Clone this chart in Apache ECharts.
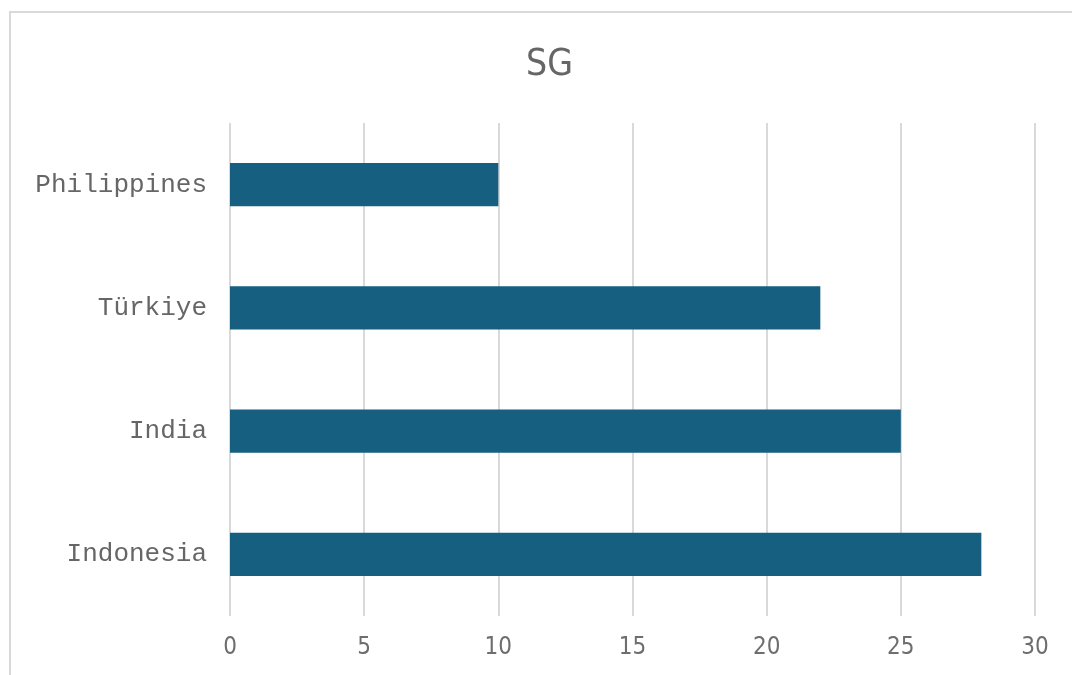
<!DOCTYPE html>
<html>
<head>
<meta charset="utf-8">
<style>
  html, body { margin: 0; padding: 0; background: #ffffff; overflow: hidden; }
  #frame {
    position: absolute; left: 9px; top: 11px; width: 1100px; height: 700px;
    border-left: 2px solid #d9d9d9; border-top: 2px solid #d9d9d9;
  }
  #chart { position: absolute; left: 0; top: 0; width: 1072px; height: 675px; }
</style>
<script src="https://cdn.jsdelivr.net/npm/echarts@6/dist/echarts.min.js"></script>
</head>
<body>
<div id="frame"></div>
<div id="chart"></div>
<script>
// Categories listed bottom to top
const countries = ['Indonesia', 'India', 'Türkiye', 'Philippines'];
const values = [28, 25, 22, 10];
const xTicks = { min: 0, max: 30, interval: 5 };

const chart = echarts.init(document.getElementById('chart'), null, { renderer: 'canvas' });
chart.setOption({
  backgroundColor: 'transparent',
  animation: false,
  title: {
    text: 'SG',
    left: 521,
    top: 42,
    textStyle: {
      fontFamily: 'DejaVu Sans Condensed, DejaVu Sans, sans-serif',
      fontWeight: 'normal',
      fontSize: 37,
      color: '#666666'
    }
  },
  grid: { left: 230, right: 37, top: 123, bottom: 59, containLabel: false },
  xAxis: {
    type: 'value',
    min: xTicks.min,
    max: xTicks.max,
    interval: xTicks.interval,
    axisLine: { show: false },
    axisTick: { show: false },
    axisLabel: {
      margin: 20,
      fontFamily: 'DejaVu Sans Condensed, DejaVu Sans, sans-serif',
      fontSize: 24,
      color: '#6e6e6e'
    },
    splitLine: { show: true, lineStyle: { color: '#d9d9d9', width: 2 } }
  },
  yAxis: {
    type: 'category',
    data: countries,
    axisLine: { show: false },
    axisTick: { show: false },
    axisLabel: {
      margin: 23,
      fontFamily: 'Liberation Mono, Courier New, monospace',
      fontSize: 26,
      color: '#666666'
    },
    splitLine: { show: false }
  },
  series: [{
    type: 'bar',
    data: values,
    barWidth: '35%',
    itemStyle: { color: '#165f80' }
  }]
});
</script>
</body>
</html>
